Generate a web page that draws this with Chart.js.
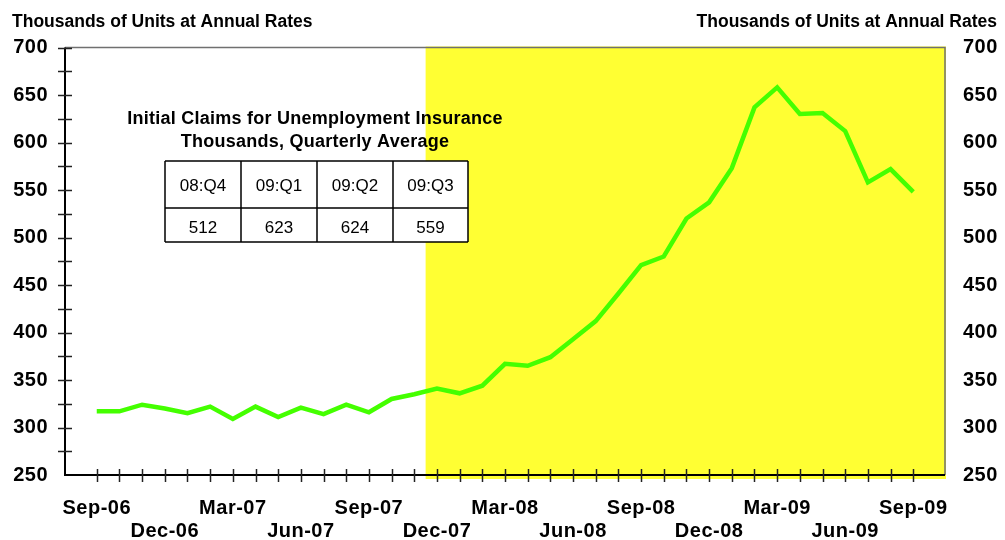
<!DOCTYPE html>
<html><head><meta charset="utf-8">
<script src="https://cdn.jsdelivr.net/npm/chart.js@4/dist/chart.umd.min.js"></script>
<style>html,body{margin:0;padding:0;background:#fff;}#wrap{width:1005px;height:540px;position:relative}</style>
</head><body><div id="wrap"><canvas id="c" width="1005" height="540"></canvas></div>
<script>
const monthLabels = ['Sep-06','Oct-06','Nov-06','Dec-06','Jan-07','Feb-07','Mar-07','Apr-07','May-07','Jun-07','Jul-07','Aug-07',
  'Sep-07','Oct-07','Nov-07','Dec-07','Jan-08','Feb-08','Mar-08','Apr-08','May-08','Jun-08','Jul-08','Aug-08',
  'Sep-08','Oct-08','Nov-08','Dec-08','Jan-09','Feb-09','Mar-09','Apr-09','May-09','Jun-09','Jul-09','Aug-09','Sep-09'];
const claims = [317,317,324,320,315,322,309,322,311,321,314,324,
  316,330,335,341,336,344,367,365,374,393,412,441,
  471,480,520,537,573,637,658,630,631,612,558,572,548];
const axisTitle = 'Thousands of Units at Annual Rates';
const boxTitle = ['Initial Claims for Unemployment Insurance','Thousands, Quarterly Average'];
const quarterLabels = ['08:Q4','09:Q1','09:Q2','09:Q3'];
const quarterValues = [512,623,624,559];
const recessionStartMonth = 'Dec-07';
const yMin = 250, yMax = 700, yStep = 50, yMinor = 25;

const FONT = '"Liberation Sans", Arial, Helvetica, sans-serif';

const decor = {
  id: 'decor',
  beforeDraw(chart) {
    chart.ctx.letterSpacing = '0.5px';
  },
  beforeDatasetsDraw(chart) {
    const {ctx, chartArea: a, scales: {x, y}} = chart;
    ctx.save();
    // recession shading
    const xs = x.getPixelForValue(monthLabels.indexOf(recessionStartMonth) - 0.5);
    ctx.fillStyle = '#FFFF33';
    ctx.fillRect(xs, a.top - 1, a.right + 1 - xs, a.bottom + 4 - (a.top - 1));
    // top & right border
    ctx.strokeStyle = '#707070'; ctx.lineWidth = 1.5;
    ctx.beginPath(); ctx.moveTo(a.left, a.top); ctx.lineTo(a.right, a.top); ctx.lineTo(a.right, a.bottom); ctx.stroke();
    // left & bottom axes
    ctx.strokeStyle = '#000'; ctx.lineWidth = 2;
    ctx.beginPath(); ctx.moveTo(a.left, a.top); ctx.lineTo(a.left, a.bottom); ctx.lineTo(a.right, a.bottom); ctx.stroke();
    // y ticks crossing axis
    ctx.strokeStyle = '#222'; ctx.lineWidth = 1.5;
    for (let v = yMin + yMinor; v <= yMax; v += yMinor) {
      const py = Math.round(y.getPixelForValue(v)) + 0.5;
      ctx.beginPath(); ctx.moveTo(a.left - 7, py); ctx.lineTo(a.left + 7, py); ctx.stroke();
    }
    // x ticks crossing axis
    for (let i = 0; i < monthLabels.length; i++) {
      const px = Math.round(x.getPixelForValue(i)) + 0.5;
      ctx.beginPath(); ctx.moveTo(px, a.bottom - 6); ctx.lineTo(px, a.bottom + 7); ctx.stroke();
    }
    ctx.restore();
  },
  afterDatasetsDraw(chart) {
    const {ctx} = chart;
    ctx.save();
    // axis titles
    ctx.fillStyle = '#000';
    ctx.letterSpacing = '0px';
    ctx.font = 'bold 17.5px ' + FONT;
    ctx.textBaseline = 'alphabetic';
    ctx.textAlign = 'left'; ctx.fillText(axisTitle, 12, 26.5);
    ctx.textAlign = 'right'; ctx.fillText(axisTitle, 997, 26.5);
    // box title
    ctx.textAlign = 'center';
    ctx.letterSpacing = '0.25px';
    ctx.font = 'bold 18px ' + FONT;
    ctx.fillText(boxTitle[0], 315, 123.5);
    ctx.fillText(boxTitle[1], 315, 146.5);
    // table
    const cols = [165, 241, 317, 393, 468];
    const rows = [161, 208, 242];
    ctx.fillStyle = '#fff';
    ctx.fillRect(cols[0], rows[0], cols[4] - cols[0], rows[2] - rows[0]);
    ctx.strokeStyle = '#000'; ctx.lineWidth = 1.5;
    ctx.beginPath();
    cols.forEach(cx => { ctx.moveTo(cx, rows[0]); ctx.lineTo(cx, rows[2]); });
    rows.forEach(ry => { ctx.moveTo(cols[0], ry); ctx.lineTo(cols[4], ry); });
    ctx.stroke();
    ctx.fillStyle = '#000';
    ctx.letterSpacing = '0px';
    ctx.font = '17px ' + FONT;
    for (let i = 0; i < quarterLabels.length; i++) {
      const cx = (cols[i] + cols[i + 1]) / 2;
      ctx.fillText(quarterLabels[i], cx, 191);
      ctx.fillText(String(quarterValues[i]), cx, 233);
    }
    ctx.restore();
  }
};

const tickFont = {family: FONT, size: 20, weight: 'bold', lineHeight: 1.15};

new Chart(document.getElementById('c'), {
  type: 'line',
  data: {
    datasets: [{
      data: claims.map((v, i) => ({x: i, y: v})),
      borderColor: '#44FF00',
      borderWidth: 4.5,
      pointRadius: 0,
      tension: 0,
      yAxisID: 'y'
    }]
  },
  options: {
    responsive: false,
    animation: false,
    devicePixelRatio: 1,
    layout: {padding: {top: 47.5, left: 0, right: 0, bottom: 0}},
    plugins: {legend: {display: false}, tooltip: {enabled: false}},
    scales: {
      x: {
        type: 'linear', min: -1.4, max: 37.4,
        afterBuildTicks(s) { s.ticks = monthLabels.map((_, i) => ({value: i})); },
        grid: {display: false, drawTicks: false},
        border: {display: false},
        ticks: {
          autoSkip: false, maxRotation: 0, minRotation: 0, padding: 22, color: '#000', font: tickFont,
          callback(v) {
            const i = Math.round(v);
            if (i % 3 !== 0) return '';
            const lab = monthLabels[i];
            return (i / 3) % 2 === 0 ? [lab, ''] : ['', lab];
          }
        },
        afterFit(s) { s.height = 65; }
      },
      y: {
        position: 'left', min: yMin, max: yMax,
        grid: {display: false, drawTicks: false},
        border: {display: false},
        ticks: {stepSize: yStep, padding: 17, color: '#000', font: tickFont},
        afterFit(s) { s.width = 65; }
      },
      y2: {
        position: 'right', min: yMin, max: yMax,
        grid: {display: false, drawTicks: false},
        border: {display: false},
        ticks: {stepSize: yStep, padding: 18, color: '#000', font: tickFont},
        afterFit(s) { s.width = 60; }
      }
    }
  },
  plugins: [decor]
});
</script>
</body></html>
